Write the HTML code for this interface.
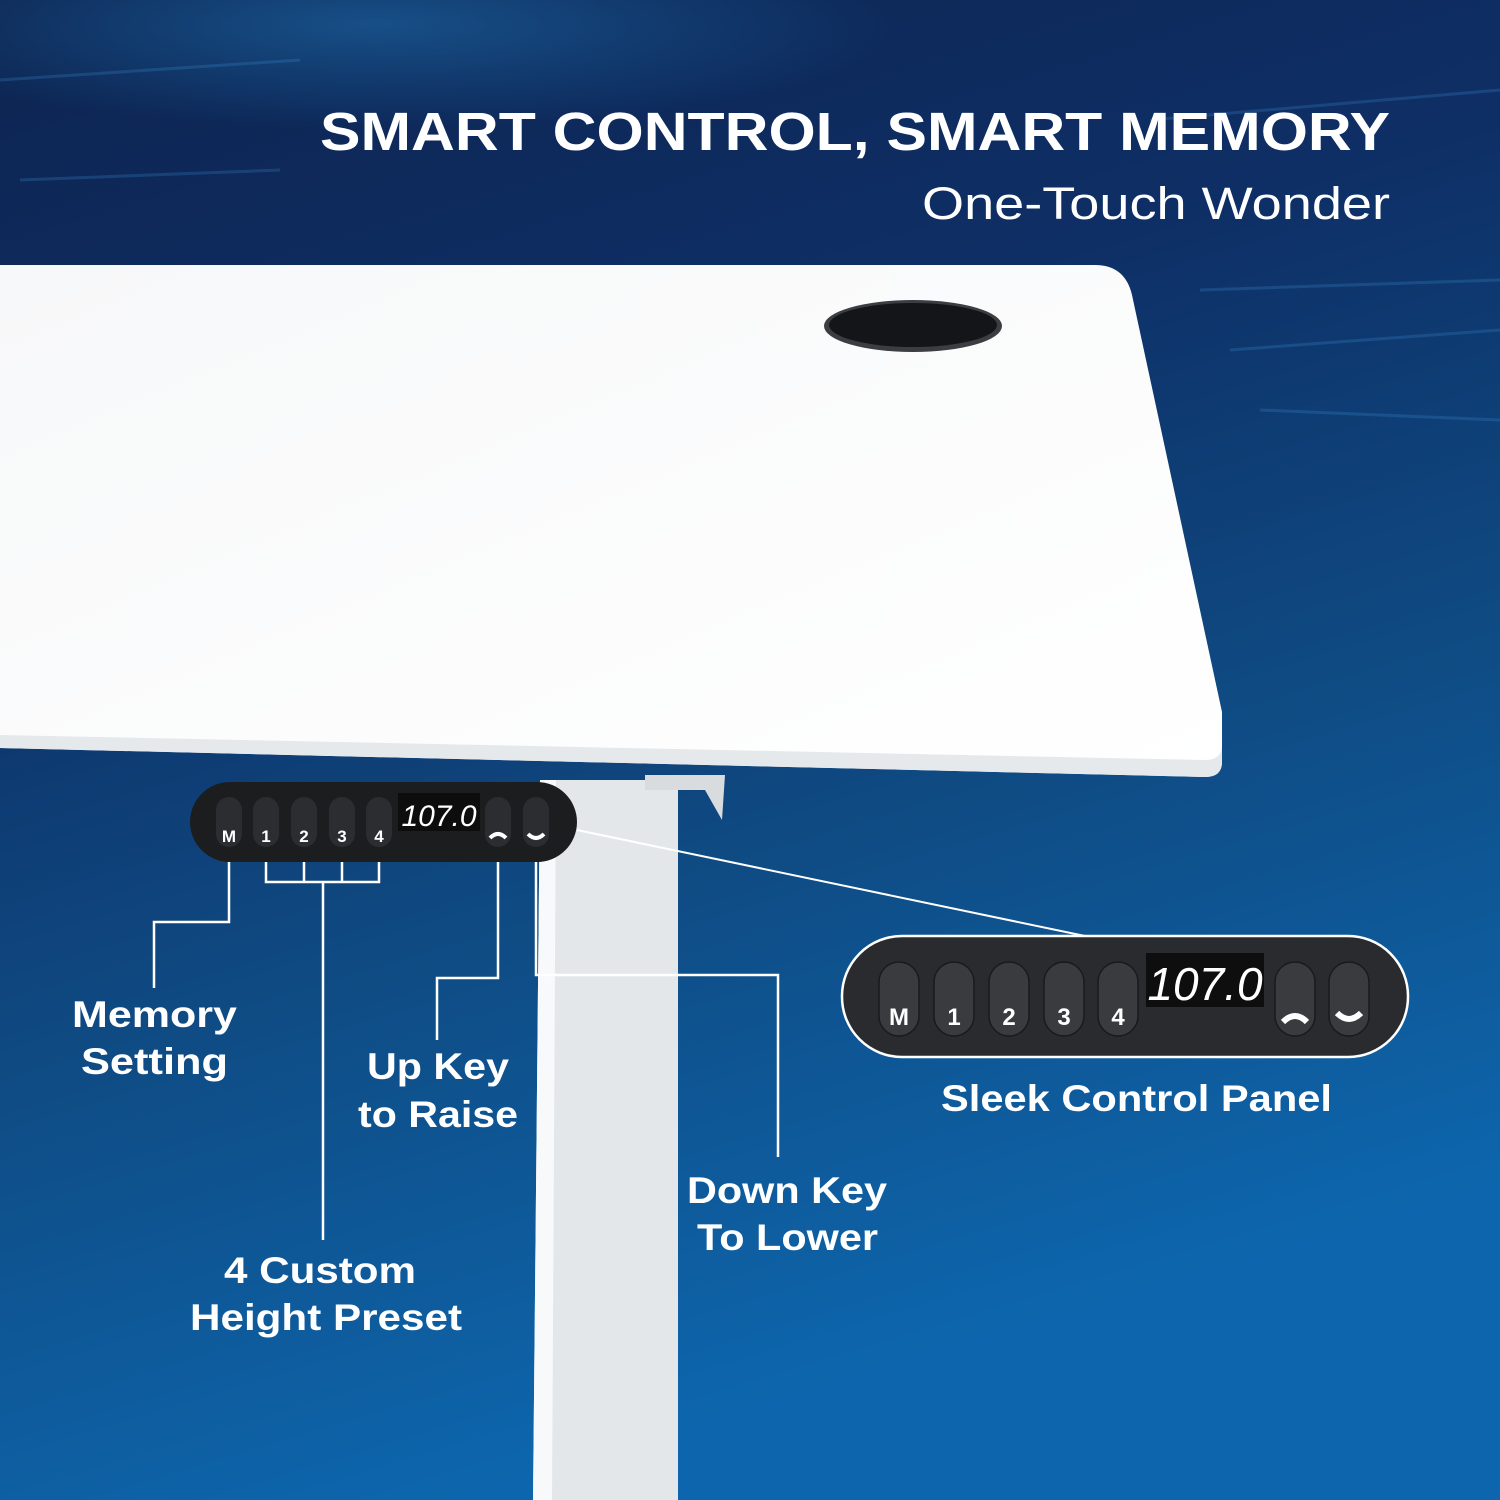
<!DOCTYPE html>
<html><head><style>
html,body{margin:0;padding:0;width:1500px;height:1500px;overflow:hidden}
text{font-family:"Liberation Sans",sans-serif}
</style></head><body>
<svg width="1500" height="1500" viewBox="0 0 1500 1500" xmlns="http://www.w3.org/2000/svg">
<defs>
<linearGradient id="bg" x1="0" y1="0" x2="0.3" y2="1">
<stop offset="0" stop-color="#0d2450"/>
<stop offset="0.35" stop-color="#0e2f66"/>
<stop offset="0.65" stop-color="#0f4a82"/>
<stop offset="1" stop-color="#0d66ad"/>
</linearGradient>
<radialGradient id="glow" cx="0.25" cy="0.08" r="0.35">
<stop offset="0" stop-color="#1d6aa8" stop-opacity="0.6"/>
<stop offset="1" stop-color="#1d6aa8" stop-opacity="0"/>
</radialGradient>
<linearGradient id="top" x1="0" y1="0" x2="1" y2="1">
<stop offset="0" stop-color="#f7f8f9"/>
<stop offset="1" stop-color="#ffffff"/>
</linearGradient>
</defs>
<rect width="1500" height="1500" fill="url(#bg)"/>
<rect width="1500" height="300" fill="url(#glow)"/>
<g opacity="0.25" stroke="#3a8fd0" stroke-width="3">
<line x1="1200" y1="290" x2="1500" y2="280"/><line x1="1230" y1="350" x2="1500" y2="330"/>
<line x1="1260" y1="410" x2="1500" y2="420"/><line x1="1150" y1="120" x2="1500" y2="90"/>
<line x1="0" y1="80" x2="300" y2="60"/><line x1="20" y1="180" x2="280" y2="170"/>
</g>
<polygon points="540,780 678,780 678,1500 533,1500" fill="#e4e7ea"/>
<polygon points="540,780 556,780 552,1500 533,1500" fill="#f8f9fa"/>
<polygon points="645,775 725,775 722,820 705,790 645,790" fill="#d9dcdf"/>
<path d="M0,265 L1095,265 Q1125,265 1132,295 L1222,712 L1222,762 Q1222,777 1205,777 L0,748 Z" fill="url(#top)"/>
<path d="M0,735 L1205,760 Q1222,760 1222,745 L1222,762 Q1222,777 1205,777 L0,748 Z" fill="#e6e9ec"/>
<ellipse cx="913" cy="326" rx="89" ry="26" fill="#3a3d41"/>
<ellipse cx="913" cy="325" rx="84" ry="22" fill="#141518"/>
<g stroke="#ffffff" stroke-width="2.5" fill="none">
<polyline points="229,853 229,922 154,922 154,988"/>
<polyline points="266,853 266,882 379,882 379,853"/>
<line x1="304" y1="853" x2="304" y2="882"/>
<line x1="342" y1="853" x2="342" y2="882"/>
<line x1="323" y1="882" x2="323" y2="1240"/>
<polyline points="498,853 498,978 437,978 437,1040"/>
<polyline points="536,853 536,975 778,975 778,1157"/>
<line x1="577" y1="830" x2="1085" y2="936" stroke-width="2"/>
</g>
<g fill="#fff"><circle cx="229" cy="853" r="3"/><circle cx="266" cy="853" r="3"/><circle cx="304" cy="853" r="3"/><circle cx="342" cy="853" r="3"/><circle cx="379" cy="853" r="3"/><circle cx="498" cy="853" r="3"/><circle cx="536" cy="853" r="3"/></g>
<rect x="190" y="782" width="387" height="80" rx="40" fill="#1c1d1f"/>
<g fill="#2c2d30">
<rect x="216" y="797" width="26" height="50" rx="13"/><rect x="253" y="797" width="26" height="50" rx="13"/>
<rect x="291" y="797" width="26" height="50" rx="13"/><rect x="329" y="797" width="26" height="50" rx="13"/>
<rect x="366" y="797" width="26" height="50" rx="13"/><rect x="485" y="797" width="26" height="50" rx="13"/>
<rect x="523" y="797" width="26" height="50" rx="13"/>
</g>
<rect x="398" y="793" width="82" height="38" fill="#0d0d0e"/>
<text x="439" y="826" font-size="30" fill="#fff" text-anchor="middle" font-style="italic">107.0</text>
<g font-size="17" font-weight="bold" fill="#fff" text-anchor="middle">
<text x="229" y="842">M</text><text x="266" y="842">1</text><text x="304" y="842">2</text><text x="342" y="842">3</text><text x="379" y="842">4</text>
</g>
<path d="M490,838 Q498,830 506,838" stroke="#fff" stroke-width="4" fill="none"/>
<path d="M528,834 Q536,842 544,834" stroke="#fff" stroke-width="4" fill="none"/>
<rect x="842" y="936" width="566" height="121" rx="60" fill="#2a2b2e" stroke="#fff" stroke-width="2.5"/>
<g fill="#3a3b3f" stroke="#1a1a1c" stroke-width="1.5">
<rect x="879" y="962" width="40" height="74" rx="20"/><rect x="934" y="962" width="40" height="74" rx="20"/>
<rect x="989" y="962" width="40" height="74" rx="20"/><rect x="1044" y="962" width="40" height="74" rx="20"/>
<rect x="1098" y="962" width="40" height="74" rx="20"/><rect x="1275" y="962" width="40" height="74" rx="20"/>
<rect x="1329" y="962" width="40" height="74" rx="20"/>
</g>
<rect x="1146" y="953" width="118" height="54" fill="#0e0e0f"/>
<text x="1205" y="1000" font-size="46" fill="#fff" text-anchor="middle" font-style="italic">107.0</text>
<g font-size="24" font-weight="bold" fill="#fff" text-anchor="middle">
<text x="899" y="1025">M</text><text x="954" y="1025">1</text><text x="1009" y="1025">2</text><text x="1064" y="1025">3</text><text x="1118" y="1025">4</text>
</g>
<path d="M1283,1022 Q1295,1010 1307,1022" stroke="#fff" stroke-width="6" fill="none"/>
<path d="M1337,1013 Q1349,1025 1361,1013" stroke="#fff" stroke-width="6" fill="none"/>
<text x="320" y="150" font-size="54" font-weight="bold" fill="#fff" textLength="1070" lengthAdjust="spacingAndGlyphs">SMART CONTROL, SMART MEMORY</text>
<text x="922" y="219" font-size="45" fill="#fff" textLength="468" lengthAdjust="spacingAndGlyphs">One-Touch Wonder</text>
<g font-size="37" font-weight="bold" fill="#fff">
<text x="72" y="1027" textLength="165" lengthAdjust="spacingAndGlyphs">Memory</text>
<text x="81" y="1074" textLength="147" lengthAdjust="spacingAndGlyphs">Setting</text>
<text x="367" y="1079" textLength="142" lengthAdjust="spacingAndGlyphs">Up Key</text>
<text x="358" y="1127" textLength="160" lengthAdjust="spacingAndGlyphs">to Raise</text>
<text x="687" y="1203" textLength="200" lengthAdjust="spacingAndGlyphs">Down Key</text>
<text x="697" y="1250" textLength="181" lengthAdjust="spacingAndGlyphs">To Lower</text>
<text x="224" y="1283" textLength="192" lengthAdjust="spacingAndGlyphs">4 Custom</text>
<text x="190" y="1330" textLength="272" lengthAdjust="spacingAndGlyphs">Height Preset</text>
<text x="941" y="1111" textLength="391" lengthAdjust="spacingAndGlyphs">Sleek Control Panel</text>
</g>
</svg>
</body></html>
